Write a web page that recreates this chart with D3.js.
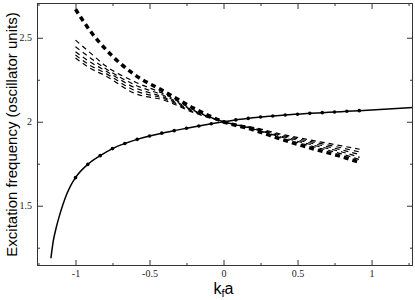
<!DOCTYPE html>
<html>
<head>
<meta charset="utf-8">
<script src="https://cdn.jsdelivr.net/npm/d3@7"></script>
<style>
  body { margin: 0; background: #fff; }
  svg { display: block; }
</style>
</head>
<body>
<div id="chart"></div>
<script>
// solid curve: markers at k = -1 + n/12
var markerK = [-1, -0.917, -0.833, -0.75, -0.667, -0.583, -0.5, -0.417, -0.333, -0.25, -0.167, -0.083,
               0, 0.083, 0.167, 0.25, 0.333, 0.417, 0.5, 0.583, 0.667, 0.75, 0.833, 0.917];
var markerW = [1.667, 1.746, 1.798, 1.84, 1.87, 1.895, 1.915, 1.932, 1.947, 1.961, 1.975, 1.988,
               2.0, 2.011, 2.02, 2.028, 2.034, 2.04, 2.045, 2.05, 2.054, 2.058, 2.062, 2.066];
// extra points of the solid curve outside the marker range
var tailK = [-1.166, -1.15, -1.13, -1.1, -1.07, -1.035];
var tailW = [1.187, 1.29, 1.37, 1.465, 1.545, 1.615];
var headK = [1.28];
var headW = [2.085];

// dashed curves
var dashK = [-1, -0.9, -0.8, -0.6, -0.4, -0.2, 0, 0.2, 0.4, 0.6, 0.8, 0.92];
var dashThick = [2.67, 2.54, 2.435, 2.28, 2.18, 2.08, 2.0, 1.952, 1.893, 1.84, 1.792, 1.758];
var dashB = [2.486, 2.41, 2.335, 2.238, 2.165, 2.07, 2.0, 1.955, 1.9, 1.853, 1.808, 1.774];
var dashC = [2.446, 2.38, 2.318, 2.22, 2.155, 2.066, 2.0, 1.958, 1.906, 1.862, 1.82, 1.788];
var dashD = [2.417, 2.355, 2.305, 2.203, 2.145, 2.062, 2.0, 1.961, 1.912, 1.871, 1.832, 1.804];
var dashE = [2.397, 2.335, 2.29, 2.186, 2.137, 2.058, 2.0, 1.964, 1.918, 1.88, 1.844, 1.82];
var dashF = [2.38, 2.318, 2.275, 2.169, 2.128, 2.054, 2.0, 1.967, 1.924, 1.889, 1.856, 1.836];

var xMajor = [-1, -0.5, 0, 0.5, 1];
var xMinor = [-1.25, -0.75, -0.25, 0.25, 0.75, 1.25];
var yMajor = [1.5, 2, 2.5];
var yMinor = [1.25, 1.75, 2.25];

var width = 415, height = 300;
var plotL = 37, plotR = 413, plotT = 3, plotB = 266;

var svg = d3.select("#chart").append("svg")
  .attr("width", width)
  .attr("height", height);

var x = d3.scaleLinear().domain([-1.26, 1.28]).range([plotL, plotR]);
var y = d3.scaleLinear().domain([1.141, 2.707]).range([plotB, plotT]);

var plot = svg.append("g");

function pairs(ks, ws) {
  return ks.map(function (k, i) { return [k, ws[i]]; });
}

var line = d3.line()
  .x(function (d) { return x(d[0]); })
  .y(function (d) { return y(d[1]); })
  .curve(d3.curveMonotoneX);

// dashed curves
[dashF, dashE, dashD, dashC, dashB].forEach(function (vals) {
  plot.append("path")
    .attr("d", line(pairs(dashK, vals)))
    .attr("fill", "none")
    .attr("stroke", "#000")
    .attr("stroke-width", 1.2)
    .attr("stroke-dasharray", "5,4");
});
plot.append("path")
  .attr("d", line(pairs(dashK, dashThick)))
  .attr("fill", "none")
  .attr("stroke", "#000")
  .attr("stroke-width", 3.5)
  .attr("stroke-dasharray", "5,4");

// solid curve
var solid = pairs(tailK, tailW).concat(pairs(markerK, markerW), pairs(headK, headW));
plot.append("path")
  .attr("d", line(solid))
  .attr("fill", "none")
  .attr("stroke", "#000")
  .attr("stroke-width", 1.5);

plot.selectAll(".dot")
  .data(pairs(markerK, markerW))
  .enter()
  .append("circle")
  .attr("class", "dot")
  .attr("cx", function (d) { return x(d[0]); })
  .attr("cy", function (d) { return y(d[1]); })
  .attr("r", 1.8)
  .attr("fill", "#000");

// axes, ticks pointing inward
function drawAxis(axis, tx, ty) {
  var g = svg.append("g")
    .attr("transform", "translate(" + tx + "," + ty + ")")
    .call(axis);
  g.select(".domain").remove();
  g.selectAll("line").attr("stroke", "#333");
  g.selectAll("text")
    .attr("font-family", "'Liberation Serif', 'Times New Roman', serif")
    .attr("font-size", 10)
    .attr("fill", "#222");
  return g;
}

var fmt = function (d) { return String(d); };

drawAxis(d3.axisBottom(x).tickValues(xMajor).tickSize(-6).tickPadding(4).tickFormat(fmt), 0, plotB);
drawAxis(d3.axisBottom(x).tickValues(xMinor).tickSize(-3).tickFormat(""), 0, plotB);
drawAxis(d3.axisTop(x).tickValues(xMajor).tickSize(-6).tickFormat(""), 0, plotT);
drawAxis(d3.axisTop(x).tickValues(xMinor).tickSize(-3).tickFormat(""), 0, plotT);
drawAxis(d3.axisLeft(y).tickValues(yMajor).tickSize(-6).tickPadding(5).tickFormat(fmt), plotL, 0);
drawAxis(d3.axisLeft(y).tickValues(yMinor).tickSize(-3).tickFormat(""), plotL, 0);
drawAxis(d3.axisRight(y).tickValues(yMajor).tickSize(-6).tickFormat(""), plotR, 0);
drawAxis(d3.axisRight(y).tickValues(yMinor).tickSize(-3).tickFormat(""), plotR, 0);

svg.append("rect")
  .attr("x", plotL + 0.5)
  .attr("y", plotT + 0.5)
  .attr("width", plotR - plotL - 1)
  .attr("height", plotB - plotT - 1)
  .attr("fill", "none")
  .attr("stroke", "#333")
  .attr("stroke-width", 1);

// axis titles
svg.append("text")
  .attr("transform", "translate(17," + ((plotT + plotB) / 2) + ") rotate(-90)")
  .attr("text-anchor", "middle")
  .attr("font-family", "'Liberation Sans', Arial, sans-serif")
  .attr("font-size", 15)
  .text("Excitation frequency (oscillator units)");

var xt = svg.append("text")
  .attr("x", x(0))
  .attr("y", 294)
  .attr("text-anchor", "middle")
  .attr("font-family", "'Liberation Sans', Arial, sans-serif")
  .attr("font-size", 16);
xt.append("tspan").text("k");
xt.append("tspan").attr("font-size", 11).attr("dy", 3).text("f");
xt.append("tspan").attr("dy", -3).text("a");
</script>
</body>
</html>
